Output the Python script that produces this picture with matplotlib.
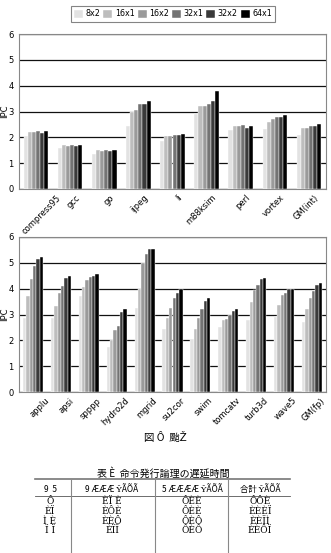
import matplotlib
matplotlib.use("Agg")
import matplotlib.pyplot as plt
import matplotlib.transforms as mtrans
import numpy as np

series = ["8x2", "16x1", "16x2", "32x1", "32x2", "64x1"]
colors = ["#e2e2e2", "#bdbdbd", "#9a9a9a", "#737373", "#3a3a3a", "#000000"]

int_cats = ["compress95", "gcc", "go", "ijpeg", "li", "m88ksim", "perl", "vortex", "GM(int)"]
int_vals = [
    [2.05, 1.60, 1.37, 2.45, 1.87, 2.90, 2.28, 2.33, 2.10],  # 8x2
    [2.20, 1.70, 1.50, 3.00, 2.07, 3.20, 2.45, 2.60, 2.35],  # 16x1
    [2.20, 1.65, 1.47, 3.05, 2.05, 3.22, 2.43, 2.70, 2.35],  # 16x2
    [2.23, 1.72, 1.52, 3.30, 2.10, 3.28, 2.48, 2.77, 2.43],  # 32x1
    [2.18, 1.67, 1.47, 3.30, 2.08, 3.40, 2.38, 2.77, 2.43],  # 32x2
    [2.25, 1.72, 1.52, 3.40, 2.12, 3.80, 2.45, 2.85, 2.50],  # 64x1
]

fp_cats = ["applu", "apsi", "spppp", "hydro2d", "mgrid", "su2cor", "swim", "tomcatv", "turb3d", "wave5", "GM(fp)"]
fp_vals = [
    [2.88, 2.85, 3.70, 1.75, 3.25, 2.45, 2.05, 2.50, 2.80, 2.90, 2.70],  # 8x2
    [3.72, 3.33, 4.07, 2.00, 4.00, 2.85, 2.45, 2.78, 3.50, 3.37, 3.20],  # 16x1
    [4.37, 3.83, 4.35, 2.40, 5.00, 3.25, 2.85, 2.83, 3.93, 3.75, 3.65],  # 16x2
    [4.88, 4.10, 4.45, 2.55, 5.33, 3.63, 3.20, 3.00, 4.15, 3.85, 3.92],  # 32x1
    [5.14, 4.42, 4.50, 3.08, 5.53, 3.85, 3.52, 3.13, 4.37, 3.98, 4.15],  # 32x2
    [5.23, 4.48, 4.55, 3.20, 5.53, 3.98, 3.62, 3.20, 4.42, 4.00, 4.22],  # 64x1
]

fig_caption = "図 Ô  颱Ž"
table_caption = "表 È  命令発行論理の遅延時間"
table_header = ["9  5", "9 ÆÆÆ ŶÃÕÃ", "5 ÆÆÆÆ ŶÃÕÃ", "合計 ŶÃÕÃ"]
table_rows = [
    ["Ô", "ÈÏ È", "ÔÈÈ", "ÔÔÈ"],
    ["ÈÏ", "ÈÔÈ", "ÔÈÈ", "ÈÈÈÏ"],
    ["Ì È", "ÈÈÔ", "ÔÈÔ", "ÈÈÏÌ"],
    ["Ï Ï", "ÈÏÏ", "ÔÈÔ", "ÈÈÔÏ"],
]

plt.rcParams['font.family'] = ['DejaVu Sans', 'Noto Sans CJK JP']

W, H = 331, 553
fig = plt.figure(figsize=(W / 100, H / 100), dpi=100)


def draw(ax, cats, vals, shift, first_shift):
    n = len(series)
    x = np.arange(len(cats))
    gw = 0.72
    bw = gw / n
    for i in range(n):
        ax.bar(x - gw / 2 + bw * (i + 0.5), vals[i], width=bw, color=colors[i],
               edgecolor="white", linewidth=0.3, zorder=3, label=series[i])
    ax.set_xlim(-0.5, len(cats) - 0.5)
    ax.set_ylim(0, 6)
    ax.set_yticks(range(0, 7))
    ax.yaxis.grid(True, color="#111111", linewidth=0.9, zorder=0)
    ax.set_axisbelow(True)
    ax.set_xticks(x)
    ax.set_xticklabels([])
    base = ax.get_xaxis_transform()
    for k, c in enumerate(cats):
        dx = first_shift if k == 0 else shift
        tr = base + mtrans.ScaledTranslation(dx / 100, -4 / 100, fig.dpi_scale_trans)
        ax.text(x[k], 0, c, transform=tr, rotation=45, ha="right", va="top",
                rotation_mode="anchor", fontsize=6)
    ax.tick_params(axis="y", labelsize=6, length=0, pad=4)
    ax.tick_params(axis="x", length=0)
    for s in ax.spines.values():
        s.set_color("#888888")
        s.set_linewidth(0.8)
    ax.set_ylabel("IPC", fontsize=6)
    ax.yaxis.set_label_coords(-10 / 307, 0.5)


ax1 = fig.add_axes([19 / W, 1 - 189 / H, 307 / W, 155 / H])
draw(ax1, int_cats, int_vals, 5, 20)
ax2 = fig.add_axes([19 / W, 1 - 392 / H, 307 / W, 155 / H])
draw(ax2, fp_cats, fp_vals, 8, 12)

h, l = ax1.get_legend_handles_labels()
leg = fig.legend(h, l, loc="center", bbox_to_anchor=(173 / W, 1 - 14 / H), ncol=6,
                 fontsize=5.8, frameon=True, fancybox=False, handlelength=1.1,
                 handleheight=1.1, handletextpad=0.3, columnspacing=0.4,
                 borderpad=0.4, edgecolor="#666666")
leg.get_frame().set_linewidth(0.8)

fig.text(165 / W, 1 - 437 / H, fig_caption, ha="center", va="center", fontsize=7.5,
         family=['Noto Sans CJK JP', 'DejaVu Sans'])
fig.text(163 / W, 1 - 473 / H, table_caption, ha="center", va="center", fontsize=7.2,
         family=['Noto Sans CJK JP', 'DejaVu Sans'])

# table lines
tl, tr = 35 / W, 290 / W
fig.add_artist(plt.Line2D([tl, tr], [1 - 479 / H] * 2, color="#777777", linewidth=1.2))
fig.add_artist(plt.Line2D([tl, tr], [1 - 495.5 / H] * 2, color="#555555", linewidth=0.6))
vx = [71, 155, 228]
for v in vx:
    fig.add_artist(plt.Line2D([v / W] * 2, [1 - 480 / H, 0], color="#888888", linewidth=0.8))
centers = [50, 112, 192, 260]
for c, t in zip(centers, table_header):
    fig.text(c / W, 1 - 489 / H, t, ha="center", va="center", fontsize=6,
             family=['Noto Sans CJK JP', 'DejaVu Serif'])
for r, row in enumerate(table_rows):
    y = 502 + r * 9.5
    for c, t in zip(centers, row):
        fig.text(c / W, 1 - y / H, t, ha="center", va="center", fontsize=6.5,
                 family=['DejaVu Serif'])

fig.savefig("out.png", dpi=100)
